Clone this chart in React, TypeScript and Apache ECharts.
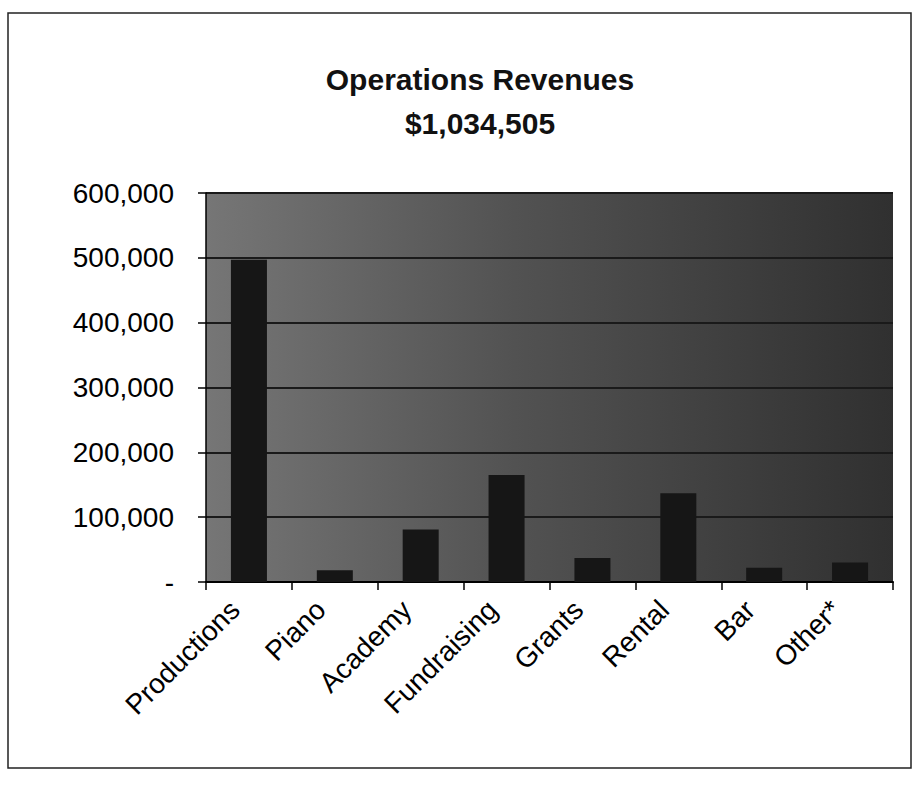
import React, { useEffect, useRef } from "react";
import * as echarts from "echarts";

const titleLine1 = "Operations Revenues";
const titleLine2 = "$1,034,505";
const categories = ["Productions", "Piano", "Academy", "Fundraising", "Grants", "Rental", "Bar", "Other*"];
const revenues = [497000, 18000, 81000, 165000, 37000, 137000, 22000, 30000];
const yMin = 0;
const yMax = 600000;
const yInterval = 100000;

function fmt(v: number): string {
  if (v === 0) return "-";
  return v.toLocaleString("en-US");
}

export default function App() {
  const ref = useRef<HTMLDivElement>(null);
  useEffect(() => {
    if (!ref.current) return;
    const chart = echarts.init(ref.current, null, { renderer: "svg" });
    chart.setOption({
      animation: false,
      backgroundColor: "#ffffff",
      textStyle: { fontFamily: "Liberation Sans" },
      title: [
        {
          text: titleLine1 + "\n" + titleLine2,
          left: 475,
          top: 52,
          textAlign: "center",
          textStyle: {
            fontFamily: "Liberation Sans",
            fontWeight: "bold",
            fontSize: 30,
            lineHeight: 44,
            color: "#111",
          },
        },
      ],
      graphic: [
        {
          type: "rect",
          shape: { x: 8, y: 13, width: 903, height: 755 },
          style: { fill: "none", stroke: "#222", lineWidth: 1.5 },
          silent: true,
          z: -1,
        },
      ],
      grid: {
        left: 206,
        right: 22,
        top: 193,
        bottom: 205,
        show: true,
        borderWidth: 0,
        backgroundColor: new echarts.graphic.LinearGradient(0, 0, 1, 0, [
          { offset: 0, color: "#767676" },
          { offset: 0.45, color: "#525252" },
          { offset: 1, color: "#303030" },
        ]),
      },
      xAxis: {
        type: "category",
        data: categories,
        axisLine: { show: true, lineStyle: { color: "#000", width: 2 } },
        axisTick: { show: true, length: 8, lineStyle: { color: "#000", width: 1.5 } },
        axisLabel: {
          interval: 0,
          rotate: 45,
          fontSize: 28,
          color: "#000",
          margin: 9,
          padding: [0, 20, 0, 0],
          fontFamily: "Liberation Sans",
        },
      },
      yAxis: {
        type: "value",
        min: yMin,
        max: yMax,
        interval: yInterval,
        axisLine: { show: true, lineStyle: { color: "#000", width: 1.5 } },
        axisTick: { show: true, length: 8, lineStyle: { color: "#000", width: 1.5 } },
        splitLine: { show: true, lineStyle: { color: "#1a1a1a", width: 2 } },
        axisLabel: {
          formatter: (v: number) => fmt(v),
          fontSize: 28,
          color: "#000",
          margin: 32,
          fontFamily: "Liberation Sans",
        },
      },
      series: [
        {
          type: "bar",
          data: revenues,
          barWidth: 36,
          itemStyle: { color: "#161616" },
        },
      ],
    });
    return () => chart.dispose();
  }, []);
  return (
    <div
      ref={ref}
      style={{ position: "absolute", left: 0, top: 0, width: 915, height: 787 }}
    />
  );
}
